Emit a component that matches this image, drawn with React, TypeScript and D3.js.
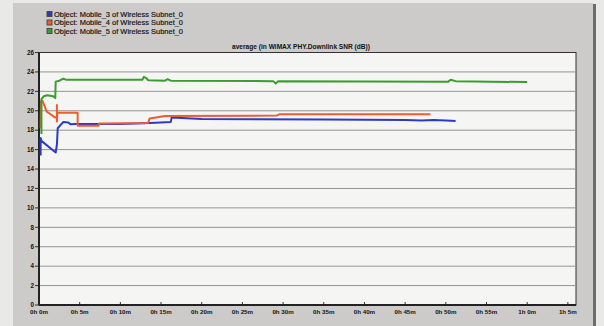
import * as d3 from "d3";

// time in minutes, SNR in dB
const mobile3: [number, number][] = [
  [0.2, 15.4], [0.2, 17.2], [0.3, 16.9], [2.05, 15.7], [2.2, 16.5], [2.3, 18.2],
  [2.6, 18.5], [3.0, 18.85], [3.6, 18.8], [3.9, 18.6], [4.5, 18.65], [10, 18.65],
  [13.7, 18.75], [16.2, 18.85], [16.3, 19.3], [20, 19.15], [35, 19.1], [45, 19.05],
  [47, 19.0], [48.5, 19.05], [50, 19.0], [51.2, 18.95],
];
const mobile4: [number, number][] = [
  [0.2, 18.2], [0.25, 21.0], [0.45, 21.0], [0.95, 19.9], [1.25, 19.75], [2.0, 19.3],
  [2.2, 19.3], [2.2, 20.6], [2.2, 18.9], [2.25, 19.8], [4.75, 19.8], [4.75, 18.45],
  [7.3, 18.45], [7.4, 18.7], [13.4, 18.75], [13.6, 19.2], [15.5, 19.45], [29.2, 19.5],
  [29.6, 19.65], [48.1, 19.65],
];
const mobile5: [number, number][] = [
  [0.3, 17.6], [0.3, 21.2], [0.6, 21.5], [1.0, 21.6], [1.75, 21.5], [2.0, 21.3],
  [2.05, 23.0], [2.5, 23.1], [3.0, 23.3], [3.3, 23.2], [12.7, 23.2], [12.9, 23.5],
  [13.2, 23.35], [13.4, 23.15], [15.5, 23.1], [15.8, 23.25], [16.2, 23.1], [28.8, 23.05],
  [29.1, 22.8], [29.4, 23.05], [50.3, 23.0], [50.6, 23.2], [51.2, 23.05], [60, 22.95],
];

const seriesNames = [
  "Object: Mobile_3 of Wireless Subnet_0",
  "Object: Mobile_4 of Wireless Subnet_0",
  "Object: Mobile_5 of Wireless Subnet_0",
];
const seriesColors = ["#2b3cc4", "#f25a34", "#3a9e2e"];
const seriesData = [mobile3, mobile4, mobile5];

const yTicks = [0, 2, 4, 6, 8, 10, 12, 14, 16, 18, 20, 22, 24, 26];
const xTicks = [0, 5, 10, 15, 20, 25, 30, 35, 40, 45, 50, 55, 60, 65];
const title = "average (in WiMAX PHY.Downlink SNR (dB))";

const fmtTime = (m: number) => `${Math.floor(m / 60)}h ${m % 60}m`;

export default function App() {
  const width = 604;
  const height = 326;
  const left = 39;
  const right = 576;
  const top = 52.5;
  const bottom = 305;

  const x = d3.scaleLinear().domain([0, 66]).range([left, right]);
  const y = d3.scaleLinear().domain([0, 26]).range([bottom, top]);
  const line = d3
    .line<[number, number]>()
    .x((d) => x(d[0]))
    .y((d) => y(d[1]));

  const font = "'Liberation Sans', Arial, sans-serif";

  return (
    <svg
      width={width}
      height={height}
      style={{ position: "absolute", left: 0, top: 0 }}
      fontFamily={font}
    >
      <rect width={width} height={height} fill="#e9e9e8" />
      <rect x={13} y={3} width={580} height={height - 3} fill="#cdcbc9" />
      <rect x={593} y={4} width={3} height={height - 4} fill="#6e6c6b" />

      {/* legend */}
      {seriesNames.map((name, i) => (
        <g key={name} transform={`translate(47,${11.5 + i * 8.5})`}>
          <rect x={0} y={0} width={5} height={5} fill={seriesColors[i]} stroke="#444" strokeWidth={0.9} />
          <text x={7} y={5} fontSize={6.6} fill="#111" stroke="#111" strokeWidth={0.15} textLength={129} lengthAdjust="spacingAndGlyphs">
            {name}
          </text>
        </g>
      ))}

      <text x={301} y={48.5} fontSize={6.4} fontWeight="bold" fill="#111" textAnchor="middle" textLength={138} lengthAdjust="spacingAndGlyphs">
        {title}
      </text>

      {/* plot area */}
      <rect x={left} y={top} width={right - left} height={bottom - top} fill="#f5f5f3" stroke="#333" strokeWidth={1} />

      {yTicks.map((t) => (
        <g key={t}>
          {t > 0 && t < 26 && (
            <line x1={left} x2={right} y1={y(t)} y2={y(t)} stroke="#949494" strokeWidth={1} />
          )}
          <line x1={left - 4} x2={left} y1={y(t)} y2={y(t)} stroke="#333" strokeWidth={1} />
          <text x={left - 5} y={y(t) + 2.2} fontSize={6.3} fontWeight="bold" fill="#111" textAnchor="end">
            {t}
          </text>
        </g>
      ))}

      {xTicks.map((t) => (
        <g key={t}>
          <line x1={x(t)} x2={x(t)} y1={bottom} y2={bottom - 3} stroke="#333" strokeWidth={1} />
          <text x={x(t)} y={bottom + 9} fontSize={6.2} fontWeight="bold" fill="#111" textAnchor="middle">
            {fmtTime(t)}
          </text>
        </g>
      ))}

      <line x1={left} x2={left} y1={top} y2={bottom} stroke="#222" strokeWidth={2} />
      <line x1={left} x2={right} y1={bottom} y2={bottom} stroke="#222" strokeWidth={2} />

      {seriesData.map((d, i) => (
        <path key={i} d={line(d) ?? ""} fill="none" stroke={seriesColors[i]} strokeWidth={2} strokeLinejoin="round" />
      ))}
    </svg>
  );
}
